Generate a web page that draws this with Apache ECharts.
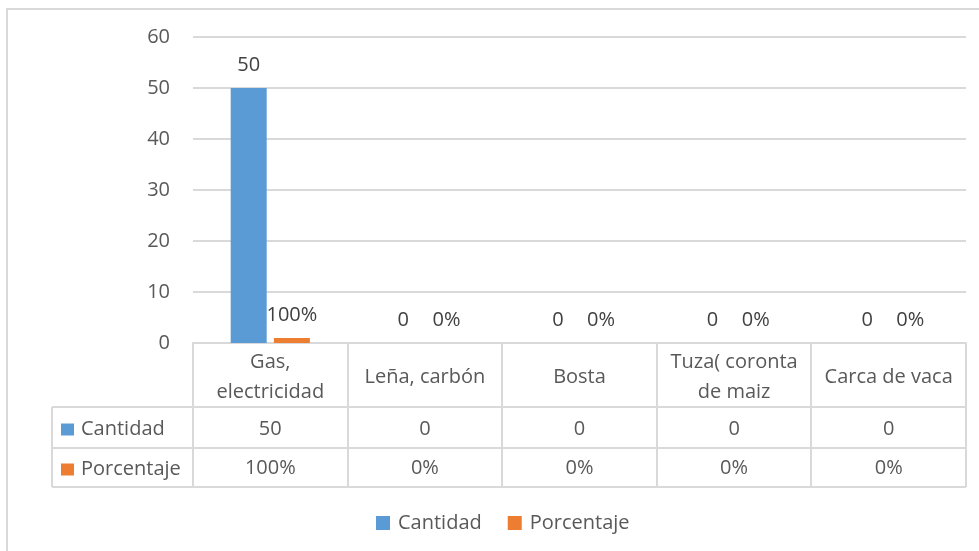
<!DOCTYPE html>
<html>
<head>
<meta charset="utf-8">
<script src="https://cdn.jsdelivr.net/npm/echarts@6/dist/echarts.min.js"></script>
<style>
  html, body { margin: 0; padding: 0; background: #fff; }
  #chart { width: 979px; height: 551px; }
</style>
</head>
<body>
<div id="chart"></div>
<script>
var categorias = ['Gas,\nelectricidad', 'Leña, carbón', 'Bosta', 'Tuza( coronta\nde maiz', 'Carca de vaca'];
var cantidad = [50, 0, 0, 0, 0];
var porcentaje = [1, 0, 0, 0, 0];
var nombres = ['Cantidad', 'Porcentaje'];
var colores = ['#5B9BD5', '#ED7D31'];

var fuente = 'Open Sans';
var tam = 20;
var gris = '#595959';
var linea = '#D9D9D9';

// layout of plot + data table
var gL = 193, gR = 13, gT = 37, gB = 208;
var W = 979, H = 551;
var x0 = gL, x1 = W - gR;
var yAxis0 = H - gB;       // 343
var yHead = 407, yRow1 = 448, yRow2 = 487, xTab = 52;
var catW = (x1 - x0) / categorias.length;

function pct(v) { return Math.round(v * 100) + '%'; }

var graficos = [
  { type: 'rect', shape: { x: 7, y: 9, width: 1000, height: 600 }, style: { fill: 'none', stroke: linea, lineWidth: 2 } },
  { type: 'line', shape: { x1: xTab, y1: yHead, x2: x1, y2: yHead }, style: { stroke: linea, lineWidth: 2 } },
  { type: 'line', shape: { x1: xTab, y1: yRow1, x2: x1, y2: yRow1 }, style: { stroke: linea, lineWidth: 2 } },
  { type: 'line', shape: { x1: xTab, y1: yRow2, x2: x1, y2: yRow2 }, style: { stroke: linea, lineWidth: 2 } },
  { type: 'line', shape: { x1: xTab, y1: yHead, x2: xTab, y2: yRow2 }, style: { stroke: linea, lineWidth: 2 } }
];
for (var i = 0; i <= categorias.length; i++) {
  var xx = Math.round(x0 + i * catW);
  graficos.push({ type: 'line', shape: { x1: xx, y1: yAxis0, x2: xx, y2: yRow2 }, style: { stroke: linea, lineWidth: 2 } });
}
var filas = [[yHead, yRow1], [yRow1, yRow2]];
for (var k = 0; k < nombres.length; k++) {
  var yc = (filas[k][0] + filas[k][1]) / 2 + 2;
  graficos.push({ type: 'rect', shape: { x: 61, y: yc - 6, width: 13, height: 12 }, style: { fill: colores[k] } });
  graficos.push({ type: 'text', x: 81, y: yc, style: { text: nombres[k], fill: gris, font: tam + 'px "' + fuente + '"', textVerticalAlign: 'middle' } });
}

function ejeFila(valores, margen) {
  return {
    type: 'category', data: valores, gridIndex: 0, position: 'bottom',
    axisLine: { show: false }, axisTick: { show: false }, splitLine: { show: false },
    axisLabel: { color: gris, fontSize: tam, fontFamily: fuente, margin: margen, verticalAlign: 'middle', interval: 0 }
  };
}

var chart = echarts.init(document.getElementById('chart'));
chart.setOption({
  animation: false,
  textStyle: { fontFamily: fuente },
  grid: { left: gL, right: gR, top: gT, bottom: gB, containLabel: false },
  legend: {
    data: nombres, bottom: 18, left: 376, padding: 0, itemWidth: 14, itemHeight: 14, itemGap: 26,
    icon: 'rect', textStyle: { color: gris, fontSize: tam, fontFamily: fuente, padding: [0, 0, 0, 3] }
  },
  xAxis: [
    {
      type: 'category', data: categorias,
      axisLine: { lineStyle: { color: linea, width: 2 } },
      axisTick: { show: false },
      axisLabel: { color: gris, fontSize: tam, fontFamily: fuente, margin: 34, verticalAlign: 'middle', lineHeight: 30, interval: 0 }
    },
    ejeFila(cantidad.map(String), 86),
    ejeFila(porcentaje.map(pct), 125)
  ],
  yAxis: {
    type: 'value', min: 0, max: 60, interval: 10,
    axisLine: { show: false }, axisTick: { show: false },
    splitLine: { lineStyle: { color: linea, width: 2 } },
    axisLabel: { color: gris, fontSize: tam, fontFamily: fuente, margin: 23 }
  },
  series: [
    {
      name: nombres[0], type: 'bar', data: cantidad, barWidth: 36, barGap: '20%',
      itemStyle: { color: colores[0] },
      label: { show: true, position: 'top', distance: 13, color: '#404040', fontSize: tam, fontFamily: fuente }
    },
    {
      name: nombres[1], type: 'bar', data: porcentaje, barWidth: 36,
      itemStyle: { color: colores[1] },
      label: { show: true, position: 'top', distance: 13, color: '#404040', fontSize: tam, fontFamily: fuente,
        formatter: function (p) { return pct(p.value); } }
    }
  ],
  graphic: graficos
});
</script>
</body>
</html>
